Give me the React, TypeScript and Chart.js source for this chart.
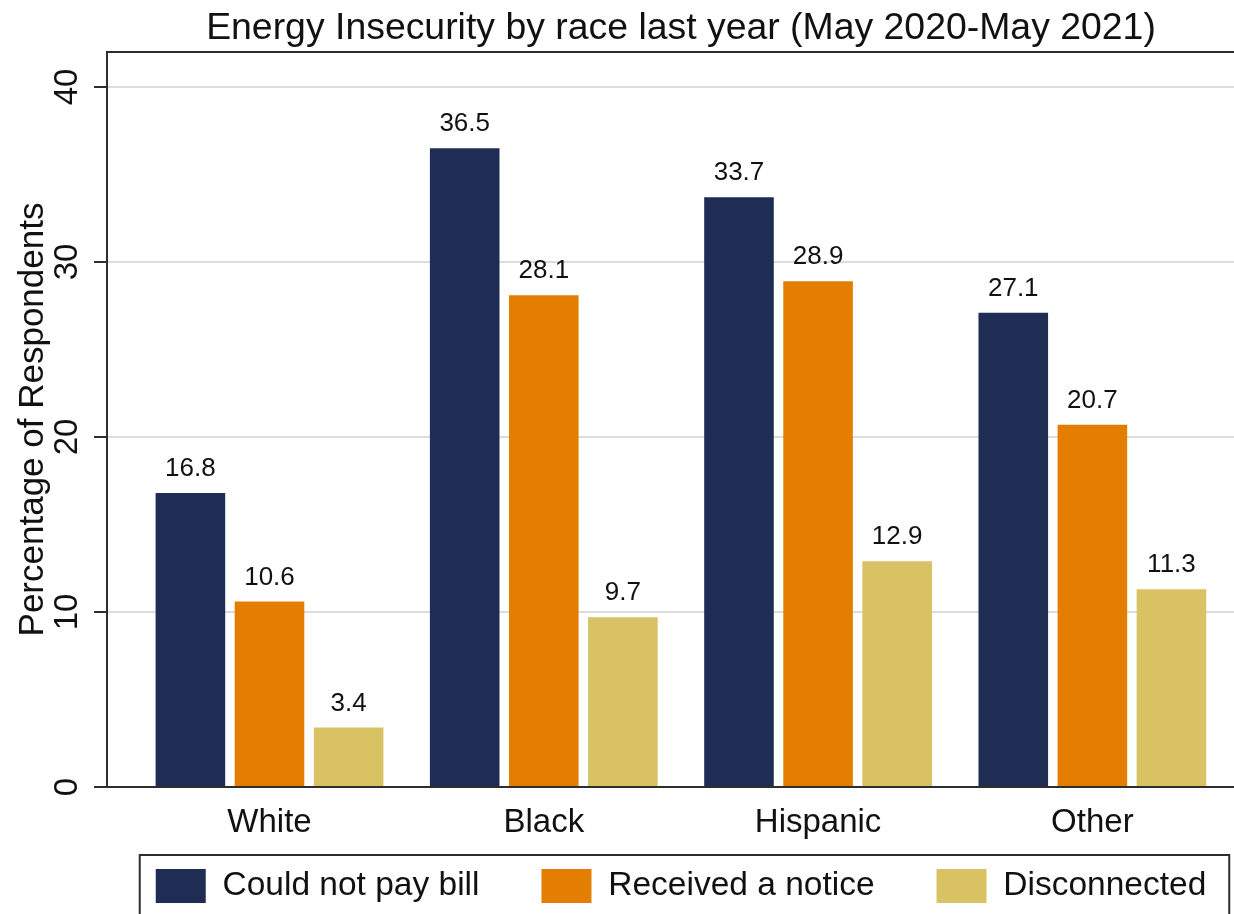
import React, { useEffect, useRef } from 'react';
import { Chart, registerables } from 'chart.js';

Chart.register(...registerables);

// ---- data ----
const categories = ['White', 'Black', 'Hispanic', 'Other'];
const seriesNames = ['Could not pay bill', 'Received a notice', 'Disconnected'];
const couldNotPay = [16.8, 36.5, 33.7, 27.1];
const receivedNotice = [10.6, 28.1, 28.9, 20.7];
const disconnected = [3.4, 9.7, 12.9, 11.3];
const yTicks = [0, 10, 20, 30, 40];
const titleText = 'Energy Insecurity by race last year (May 2020-May 2021)';
const yTitleText = 'Percentage of Respondents';

// ---- styling ----
const FONT = '"Liberation Sans", Arial, Helvetica, sans-serif';
const TEXT = '#111111';
const AXIS = '#2e2e2e';
const GRID = '#dcdcdc';
const COLORS = ['#1f2c54', '#e37e00', '#d8c264'];
const X_MIN = -0.5924;
const X_MAX = 3.983;
const Y_MAX = 42;
const LEGEND_PAD = 62;

const valueLabels = {
  id: 'valueLabels',
  afterDatasetsDraw(chart: any) {
    const ctx = chart.ctx;
    ctx.save();
    ctx.font = `26px ${FONT}`;
    ctx.fillStyle = TEXT;
    ctx.textAlign = 'center';
    ctx.textBaseline = 'alphabetic';
    chart.data.datasets.forEach((ds: any, i: number) => {
      const meta = chart.getDatasetMeta(i);
      meta.data.forEach((bar: any, j: number) => {
        ctx.fillText(Number(ds.data[j]).toFixed(1), bar.x, bar.y - 17);
      });
    });
    ctx.restore();
  },
};

// lets the category labels overflow the (deliberately short) x-axis box
const xLabelRoom = {
  id: 'xLabelRoom',
  afterLayout(chart: any) {
    const s = chart.scales.x;
    if (s) {
      s.bottom = s.top + 70;
    }
  },
};

const frame = {
  id: 'frame',
  afterDraw(chart: any) {
    const ctx = chart.ctx;
    const ca = chart.chartArea;
    ctx.save();
    ctx.strokeStyle = AXIS;
    ctx.lineWidth = 2;
    ctx.beginPath();
    ctx.moveTo(ca.left - 1, ca.top);
    ctx.lineTo(ca.right, ca.top);
    ctx.stroke();
    const hb = chart.legend && chart.legend.legendHitBoxes;
    if (hb && hb.length) {
      const last = hb[hb.length - 1];
      const left = hb[0].left - 16;
      const right = last.left + last.width + 23;
      const top = hb[0].top - 14;
      ctx.strokeRect(left, top, right - left, chart.height + 20 - top);
    }
    ctx.restore();
  },
};

export default function App() {
  const ref = useRef<HTMLCanvasElement | null>(null);
  useEffect(() => {
    if (!ref.current) return;
    const data = [couldNotPay, receivedNotice, disconnected];
    const chart = new Chart(ref.current, {
      type: 'bar',
      data: {
        labels: categories,
        datasets: seriesNames.map((name, i) => ({
          label: name,
          data: data[i],
          backgroundColor: COLORS[i],
          borderWidth: 0,
          categoryPercentage: 0.865,
          barPercentage: 0.88,
        })),
      },
      options: {
        responsive: false,
        animation: false,
        devicePixelRatio: 1,
        layout: { padding: { left: 0, right: 0, top: 0, bottom: 1 } },
        plugins: {
          title: {
            display: true,
            text: titleText,
            color: TEXT,
            font: { family: FONT, size: 37.4, weight: 'normal' },
            padding: { top: 6, bottom: 1.12 },
          },
          legend: {
            position: 'bottom',
            labels: {
              boxWidth: 50,
              boxHeight: 34,
              padding: LEGEND_PAD,
              color: TEXT,
              font: { family: FONT, size: 33.5 },
            },
          },
          tooltip: { enabled: false },
        },
        scales: {
          x: {
            type: 'category',
            offset: true,
            grid: { display: false, drawTicks: false },
            border: { display: true, color: AXIS, width: 2 },
            ticks: {
              color: TEXT,
              font: { family: FONT, size: 33 },
              padding: 16,
              maxRotation: 0,
              autoSkip: false,
            },
            afterBuildTicks: (s: any) => {
              s._startValue = X_MIN;
              s._valueRange = X_MAX - X_MIN;
            },
            afterFit: (s: any) => {
              s.height = 20;
            },
          },
          y: {
            min: 0,
            max: Y_MAX,
            afterBuildTicks: (s: any) => {
              s.ticks = yTicks.map((v) => ({ value: v }));
            },
            grid: {
              color: GRID,
              lineWidth: 2,
              tickColor: AXIS,
              tickLength: 13,
              tickWidth: 2,
            },
            border: { display: true, color: AXIS, width: 2 },
            ticks: {
              color: TEXT,
              font: { family: FONT, size: 33 },
              minRotation: 90,
              maxRotation: 90,
              crossAlign: 'center',
              padding: 8,
            },
            title: {
              display: true,
              text: yTitleText,
              color: TEXT,
              font: { family: FONT, size: 35 },
              padding: { top: 12, bottom: 0 },
            },
            afterFit: (s: any) => {
              s.width = 107;
            },
          },
        },
      } as any,
      plugins: [valueLabels, xLabelRoom, frame],
    });
    return () => chart.destroy();
  }, []);

  return (
    <div
      style={{
        position: 'absolute',
        left: 0,
        top: 0,
        width: 1234,
        height: 914,
        overflow: 'hidden',
        background: '#ffffff',
      }}
    >
      <canvas ref={ref} width={1362} height={914} style={{ display: 'block' }} />
    </div>
  );
}
